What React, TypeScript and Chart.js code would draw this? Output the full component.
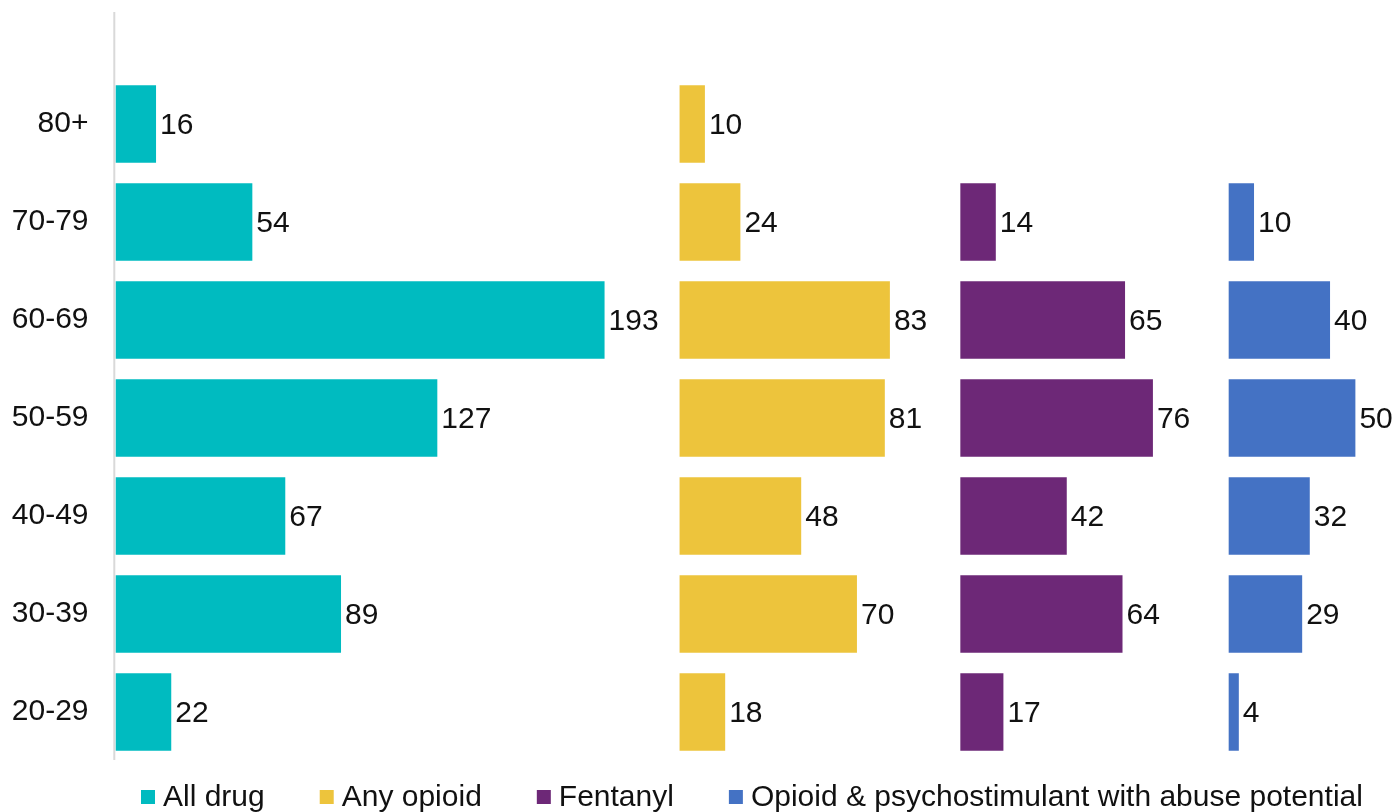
import React, { useEffect, useRef } from "react";
import { Chart, registerables } from "chart.js";

Chart.register(...registerables);

const categories = ["80+", "70-79", "60-69", "50-59", "40-49", "30-39", "20-29"];
const allDrug = [16, 54, 193, 127, 67, 89, 22];
const anyOpioid = [10, 24, 83, 81, 48, 70, 18];
const fentanyl: (number | null)[] = [null, 14, 65, 76, 42, 64, 17];
const opioidPsycho: (number | null)[] = [null, 10, 40, 50, 32, 29, 4];

const seriesNames = [
  "All drug",
  "Any opioid",
  "Fentanyl",
  "Opioid & psychostimulant with abuse potential",
];
const seriesValues = [allDrug, anyOpioid, fentanyl, opioidPsycho];
const seriesColors = ["#00BBC0", "#EDC43C", "#6D2877", "#4472C4"];
// panel start (in value units) for each small-multiple column
const panelOffsets = [0, 222.6, 333.4, 439.3];

const FONT = "'Liberation Sans', Arial, 'Helvetica Neue', sans-serif";

const axisLinePlugin = {
  id: "axisLine",
  beforeDatasetsDraw(chart: any) {
    const { ctx, chartArea } = chart;
    ctx.save();
    ctx.strokeStyle = "#d9d9d9";
    ctx.lineWidth = 2;
    ctx.beginPath();
    ctx.moveTo(chartArea.left - 1.2, 12);
    ctx.lineTo(chartArea.left - 1.2, chartArea.bottom - 1);
    ctx.stroke();
    ctx.restore();
  },
};

const valueLabelPlugin = {
  id: "valueLabels",
  afterDatasetsDraw(chart: any) {
    const { ctx } = chart;
    ctx.save();
    ctx.font = `30px ${FONT}`;
    ctx.fillStyle = "#111111";
    ctx.textAlign = "left";
    ctx.textBaseline = "middle";
    chart.data.datasets.forEach((ds: any, di: number) => {
      const meta = chart.getDatasetMeta(di);
      const vals = seriesValues[di];
      meta.data.forEach((el: any, i: number) => {
        const v = vals[i];
        if (v == null) return;
        ctx.fillText(String(v), el.x + 4, el.y + 2);
      });
    });
    ctx.restore();
  },
};

const legendPlugin = {
  id: "customLegend",
  afterDraw(chart: any) {
    const { ctx } = chart;
    ctx.save();
    ctx.font = `30px ${FONT}`;
    ctx.textBaseline = "middle";
    ctx.textAlign = "left";
    const box = 14;
    const gap = 8;
    const spacing = 55;
    const y = 797;
    const items = chart.data.datasets.map((ds: any) => ({
      label: ds.label as string,
      color: ds.backgroundColor as string,
      w: ctx.measureText(ds.label).width,
    }));
    let x = 141;
    items.forEach((it: any) => {
      ctx.fillStyle = it.color;
      ctx.fillRect(x, y - box / 2, box, box);
      ctx.fillStyle = "#111111";
      ctx.fillText(it.label, x + box + gap, y + 1);
      x += box + gap + it.w + spacing;
    });
    ctx.restore();
  },
};

export default function App() {
  const canvasRef = useRef<HTMLCanvasElement | null>(null);

  useEffect(() => {
    if (!canvasRef.current) return;
    const datasets = seriesValues.map((vals, di) => ({
      label: seriesNames[di],
      data: vals.map((v) =>
        v == null ? null : [panelOffsets[di], panelOffsets[di] + v]
      ),
      backgroundColor: seriesColors[di],
      borderWidth: 0,
      grouped: false,
      barPercentage: 0.79,
      categoryPercentage: 1,
    }));
    const chart = new Chart(canvasRef.current, {
      type: "bar",
      data: { labels: categories, datasets: datasets as any },
      options: {
        indexAxis: "y",
        animation: false,
        responsive: false,
        maintainAspectRatio: false,
        layout: { padding: { top: 75, bottom: 51, left: 0, right: 17.5 } },
        plugins: {
          legend: { display: false },
          tooltip: { enabled: false },
        },
        scales: {
          x: {
            display: false,
            min: 0,
            max: 500,
          },
          y: {
            grid: { display: false, drawTicks: false },
            border: { display: false },
            afterFit: (scale: any) => {
              scale.width = 115.5;
            },
            ticks: {
              padding: 27,
              color: "#111111",
              font: { family: FONT, size: 30 },
            },
          },
        },
      },
      plugins: [axisLinePlugin, valueLabelPlugin, legendPlugin],
    });
    return () => chart.destroy();
  }, []);

  return (
    <div
      style={{
        position: "absolute",
        left: 0,
        top: 0,
        width: 1400,
        height: 812,
        background: "#ffffff",
      }}
    >
      <canvas ref={canvasRef} width={1400} height={812} />
    </div>
  );
}
